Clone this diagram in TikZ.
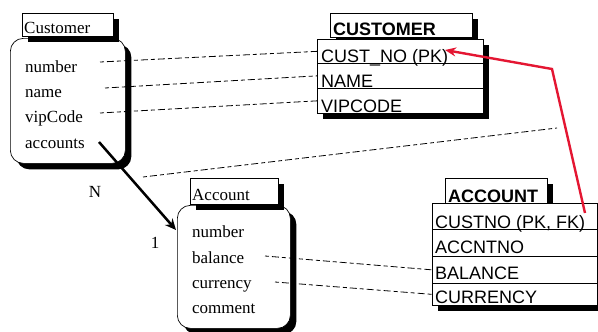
\documentclass[tikz,border=0pt]{standalone}
\usepackage{fontspec}
\setmainfont{Liberation Serif}
\newfontfamily\tabfont{Liberation Sans}
\usetikzlibrary{arrows.meta,calc,shadows}

\begin{document}
\begin{tikzpicture}[x=1pt,y=-1pt,
  blk/.style={drop shadow={shadow xshift=#1,shadow yshift=-#1,fill=black,opacity=1}},
  blk/.default=6pt,
  box/.style={draw=black,fill=white,line width=0.7pt,inner sep=0pt,anchor=north west},
  classbody/.style={box,rounded corners=13pt},
  attr/.style={font=\fontsize{17}{19}\selectfont,anchor=base west,inner sep=0pt},
  card/.style={font=\fontsize{17}{19}\selectfont,inner sep=0pt},
  coltext/.style={font=\tabfont\fontsize{18}{20}\selectfont,anchor=base west,inner sep=0pt},
  tabtitle/.style={font=\tabfont\bfseries\fontsize{18}{20}\selectfont,anchor=base west,inner sep=0pt},
  link/.style={line width=0.8pt,dash pattern=on 4pt off 3pt on 7pt off 3pt},
]
\useasboundingbox (0,0) rectangle (598,332);
\fill[white] (0,0) rectangle (598,332);

% ---- class Customer ----
\node[classbody,blk,minimum width=115pt,minimum height=125pt] (custBody) at (10,38) {};
\node[box,blk,minimum width=91pt,minimum height=23pt] (custTitle) at (22,13) {};
\node[attr] (custName) at (24,33) {Customer};
\node[attr] (aNumber) at (25,72) {number};
\node[attr] (aName) at (25,97) {name};
\node[attr] (aVip) at (25,122) {vipCode};
\node[attr] (aAccounts) at (25,148) {accounts};

% ---- class Account ----
\node[classbody,blk,minimum width=113pt,minimum height=123pt] (accBody) at (177,205) {};
\node[box,blk,minimum width=88pt,minimum height=26pt] (accTitle) at (190,178) {};
\node[attr] (accName) at (192,200) {Account};
\node[attr] (bNumber) at (192,237) {number};
\node[attr] (bBalance) at (192,263) {balance};
\node[attr] (bCurrency) at (192,288) {currency};
\node[attr] (bComment) at (192,313) {comment};

% ---- table CUSTOMER ----
\node[box,blk,minimum width=142pt,minimum height=24pt] (tCustTitle) at (330,13) {};
\node[box,blk,minimum width=166pt,minimum height=74pt] (tCustRows) at (317,39) {};
\node[box,minimum width=166pt,minimum height=24pt] (rCustNo) at (317,39) {};
\node[box,minimum width=166pt,minimum height=25pt] (rName) at (317,63) {};
\node[box,minimum width=166pt,minimum height=25pt] (rVip) at (317,88) {};
\node[tabtitle] at (333,35) {CUSTOMER};
\node[coltext] (tCustNo) at (321,62) {CUST\_NO (PK)};
\node[coltext] at (321,87) {NAME};
\node[coltext] at (321,112) {VIPCODE};

% ---- table ACCOUNT ----
\node[box,blk,minimum width=102pt,minimum height=25pt] (tAccTitle) at (445,178) {};
\node[box,blk,minimum width=165pt,minimum height=102pt] (tAccRows) at (432,203) {};
\node[box,minimum width=165pt,minimum height=26pt] (rAccCust) at (432,203) {};
\node[box,minimum width=165pt,minimum height=27pt] (rAccNo) at (432,229) {};
\node[box,minimum width=165pt,minimum height=27pt] (rBalance) at (432,256) {};
\node[box,minimum width=165pt,minimum height=22pt] (rCurrency) at (432,283) {};
\node[tabtitle] at (448,202) {ACCOUNT};
\node[coltext] at (435,228) {CUSTNO (PK, FK)};
\node[coltext] at (435,253) {ACCNTNO};
\node[coltext] at (435,279) {BALANCE};
\node[coltext] at (435,303) {CURRENCY};

% ---- mapping lines ----
\coordinate (mNumber) at (100,62);
\coordinate (mName) at (105,88);
\coordinate (mVip) at (100,113);
\coordinate (mBalance) at (265,256);
\coordinate (mCurrency) at (275,282);
\coordinate (mRelA) at (143,177);
\coordinate (mRelB) at (557,128);
\draw[link] (mNumber) -- (rCustNo.west);
\draw[link] (mName) -- (rName.west);
\draw[link] (mVip) -- (rVip.west);
\draw[link] (mBalance) -- (rBalance.west);
\draw[link] (mCurrency) -- (rCurrency.west);
\draw[link] (mRelA) -- (mRelB);

% ---- association accounts -> Account ----
\coordinate (assocStart) at (99,142);
\coordinate (assocEnd) at (176,230);
\draw[line width=2.5pt,-{Stealth[length=11pt,width=10pt]}] (assocStart) -- (assocEnd);
\node[card] (cardN) at (95,192) {N};
\node[card] (cardOne) at (155,243) {1};

% ---- foreign key reference ----
\coordinate (fkStart) at (585,213);
\coordinate (fkBend) at (552,69);
\coordinate (fkEnd) at (445,50);
\draw[line width=2.4pt,color={rgb,255:red,228;green,22;blue,50},
      -{Stealth[length=11pt,width=9pt]}] (fkStart) -- (fkBend) -- (fkEnd);
\end{tikzpicture}
\end{document}
